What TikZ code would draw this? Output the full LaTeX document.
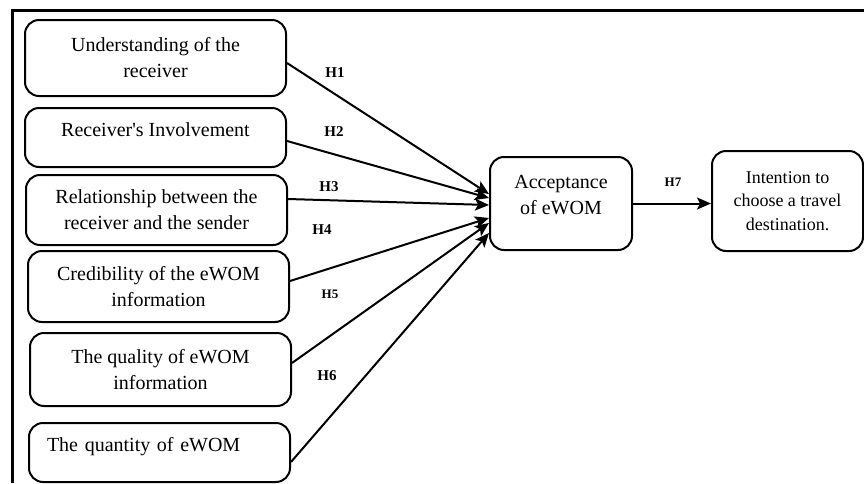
\documentclass[tikz,border=0pt]{standalone}
\usepackage{fontspec}
\setmainfont{Liberation Serif}
\usetikzlibrary{calc}
\usetikzlibrary{arrows.meta}

\tikzset{
  factor/.style={draw, line width=1pt, rounded corners=7pt, minimum width=130.5pt,
    align=center, inner sep=2pt, font=\fontsize{10}{13}\selectfont},
  outcome/.style={draw, line width=1pt, rounded corners=7pt, align=center, inner sep=2pt},
  hyp/.style={inner sep=0pt, font=\fontsize{7.5}{9}\selectfont\bfseries},
  link/.style={line width=1pt, -{Stealth[length=7pt,width=6pt,inset=1.5pt]}},
}

\begin{document}
\begin{tikzpicture}[x=0.5pt,y=-0.5pt]
                        \useasboundingbox (0,0) rectangle (864,483);
                        
                        % Drawing frame
                        \draw [line width=1.5pt] (12.5,483) -- (12.5,10) -- (864,10);%
                        
                        % Drawing boxes of the factors
                        \node [factor, minimum height=38pt] (b1) at (155.5,58) {Understanding of the\\receiver};%
                        \node [factor, minimum height=29.5pt] (b2) at (155.5,137.5) {Receiver\textquotesingle s Involvement\\[-5pt]\mbox{}};%
                        \node [factor, minimum height=35pt] (b3) at (156.5,210) {Relationship between the\\receiver and the sender};%
                        \node [factor, minimum height=35.5pt] (b4) at (158.5,286.5) {Credibility of the eWOM\\information};%
                        \node [factor, minimum height=36.5pt] (b5) at (160.5,369.5) {The quality of eWOM\\information};%
                        \node [factor, minimum height=29.5pt, align=left, inner xsep=9pt, text width=112.5pt] (b6) at (159.5,452.5) {The quantity of eWOM\\[-5pt]\mbox{}};%
                        
                        % Drawing acceptance and intention
                        \node [outcome, minimum width=71pt, minimum height=46.5pt, font=\fontsize{10}{13}\selectfont] (acc) at (561,203.5) {Acceptance\\of eWOM\\[-4pt]\mbox{}};%
                        \node [outcome, minimum width=75.5pt, minimum height=50pt, font=\fontsize{9}{11.75}\selectfont] (int) at (787.5,201) {Intention to\\choose a travel\\destination.};%
                        
                        % Drawing arrows H1 to H6
                        \draw [link] ($(b1.east)+(0,5)$) -- ($(acc.west)+(0,-9.5)$);%
                        \draw [link] ($(b2.east)+(0,3.5)$) -- ($(acc.west)+(0,-5.5)$);%
                        \draw [link] ($(b3.east)+(0,-11)$) -- ($(acc.west)+(0,1.5)$);%
                        \draw [link] ($(b4.east)+(0,-5.5)$) -- ($(acc.west)+(0,14.5)$);%
                        \draw [link] ($(b5.east)+(0,-6.5)$) -- ($(acc.west)+(0,19.5)$);%
                        \draw [link] ($(b6.east)+(0,9.5)$) -- ($(acc.west)+(0,29.5)$);%
                        
                        % Drawing arrow H7
                        \draw [link] (acc.east) -- (acc.east -| int.west);%
                        
                        % Marking hypotheses
                        \node [hyp] (h1) at (335,73) {H1};%
                        \node [hyp] (h2) at (334,132) {H2};%
                        \node [hyp] (h3) at (329,187) {H3};%
                        \node [hyp] (h4) at (322,230) {H4};%
                        \node [hyp, font=\fontsize{6.5}{8}\selectfont\bfseries] (h5) at (330,294) {H5};%
                        \node [hyp] (h6) at (327,376) {H6};%
                        \node [hyp, font=\fontsize{6.5}{8}\selectfont\bfseries] (h7) at (673,182) {H7};%
\end{tikzpicture}
\end{document}
